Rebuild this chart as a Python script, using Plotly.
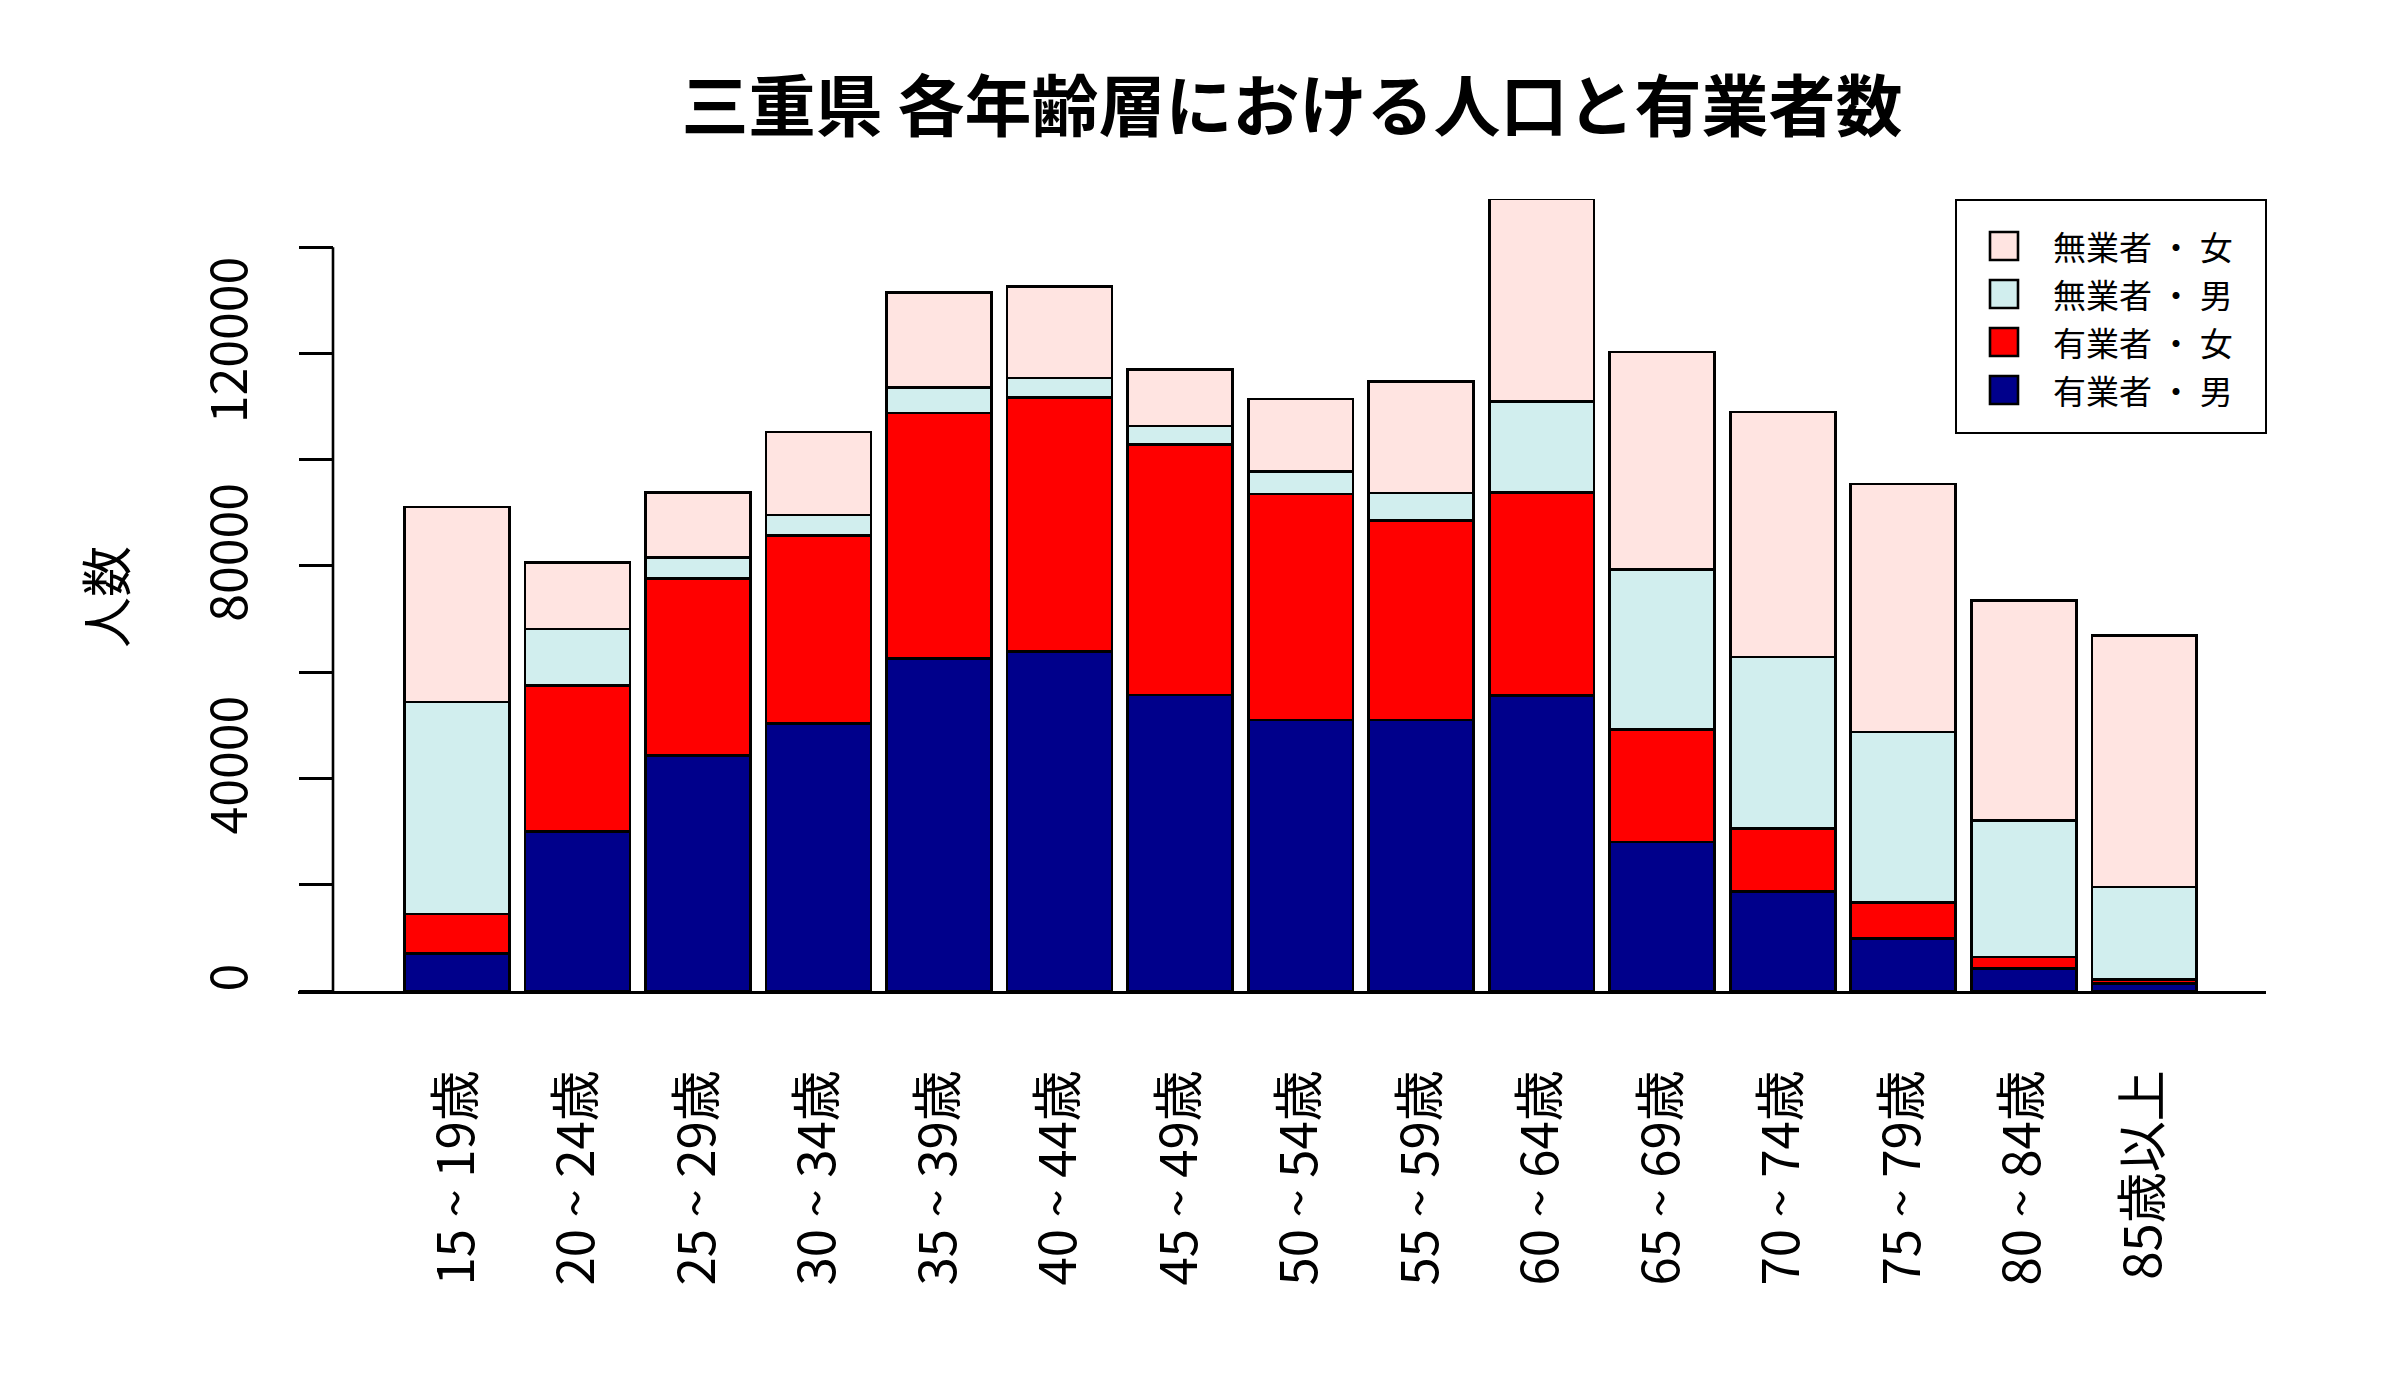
import plotly.graph_objects as go

# ---------------- data ----------------
categories = ["15 ~ 19歳", "20 ~ 24歳", "25 ~ 29歳", "30 ~ 34歳", "35 ~ 39歳",
              "40 ~ 44歳", "45 ~ 49歳", "50 ~ 54歳", "55 ~ 59歳", "60 ~ 64歳",
              "65 ~ 69歳", "70 ~ 74歳", "75 ~ 79歳", "80 ~ 84歳", "85歳以上"]
emp_male = [7040, 30000, 44290, 50310, 62550, 63880, 55710, 51020, 51020,
            55610, 28060, 18780, 9850, 4180, 1420]
emp_female = [7450, 27550, 33370, 35410, 46220, 47860, 47140, 42550, 37550,
              38270, 21120, 11840, 6770, 2200, 720]
nonemp_male = [39900, 10610, 3980, 3880, 4800, 3670, 3470, 4180, 5200,
               17040, 30200, 32245, 32160, 25760, 17450]
nonemp_female = [36730, 12450, 12245, 15610, 17860, 17245, 10710, 13670, 20920,
                 38160, 40920, 46120, 46630, 41330, 47350]
series_names = ["有業者・男", "有業者・女", "無業者・男", "無業者・女"]
series_colors = ["#00008B", "#FF0000", "#D1EEEE", "#FFE4E1"]
title_text = "三重県 各年齢層における人口と有業者数"
ylabel_text = "人数"
ytick_major = 40000
ytick_minor = 20000

FONT = "Noto Sans CJK JP"
OFF = 8                      # page body margin
W, H = 2400, 1400
L, R, T, B = 298 - OFF, 2266 - OFF, 199 - OFF, 991 - OFF   # plot region (figure px)

def px(xs):
    """screen x pixel -> paper fraction"""
    return (xs - OFF - L) / (R - L)

def py(ys):
    """screen y pixel -> paper fraction"""
    return (B - (ys - OFF)) / (B - T)

series_values = [emp_male, emp_female, nonemp_male, nonemp_female]
totals = [sum(v) for v in zip(*series_values)]
ymax = max(totals)

fig = go.Figure()
for name, vals, col in zip(series_names, series_values, series_colors):
    fig.add_trace(go.Bar(x=categories, y=vals, name=name,
                         marker=dict(color=col, line=dict(color="black", width=2.6)),
                         showlegend=False))

n = len(categories)
fig.update_layout(
    width=W, height=H,
    barmode="stack", bargap=0.129,
    plot_bgcolor="white", paper_bgcolor="white",
    margin=dict(l=L, r=W - R, t=T, b=H - B, pad=0),
    font=dict(family=FONT, size=50, color="black"),
    title=dict(text="<b>" + title_text + "</b>", x=(1292 - OFF) / W, y=1 - (108 - OFF) / H,
               xanchor="center", yanchor="middle",
               font=dict(family=FONT, size=67, color="black")),
)
fig.update_xaxes(
    type="category", range=[-1.32, n - 1 + 1.01],
    showline=True, linecolor="black", linewidth=2.6,
    ticks="", tickangle=-90, ticklabelstandoff=56,
    tickfont=dict(family=FONT, size=51, color="black"),
    showgrid=False, zeroline=False,
)
ypos = px(333)
fig.update_yaxes(
    range=[0, ymax], anchor="free", position=ypos,
    showline=False, showgrid=False, zeroline=False,
    dtick=ytick_major, tick0=0, tickformat="d",
    ticks="outside", ticklen=34, tickwidth=2.6,
    tickcolor="black", tickangle=-90, ticklabelstandoff=32, ticklabelshift=-6,
    tickfont=dict(family=FONT, size=50, color="black"),
    minor=dict(dtick=ytick_minor, tick0=0, ticks="outside", ticklen=34,
               tickwidth=2.6, tickcolor="black", showgrid=False),
)
# y axis line between first and last tick (R style)
last_tick = (ymax // ytick_minor) * ytick_minor
fig.add_shape(type="line", xref="paper", yref="y", x0=ypos, x1=ypos,
              y0=0, y1=last_tick, line=dict(color="black", width=2.6))

# y axis title
fig.add_annotation(text=ylabel_text, xref="paper", yref="paper",
                   x=px(104), y=py(597), textangle=-90, showarrow=False,
                   xanchor="center", yanchor="middle",
                   font=dict(family=FONT, size=51, color="black"))

# legend (R-style box, top right)
lg_left, lg_top, lg_bottom = 1956, 200, 433
fig.add_shape(type="rect", xref="paper", yref="paper",
              x0=px(lg_left), x1=1.0, y0=py(lg_bottom), y1=py(lg_top),
              line=dict(color="black", width=2), fillcolor="white", layer="above")
lg_font = 33
row_step = 48
row_mid = 318
sw = 28
names_top_down = series_names[::-1]
cols_top_down = series_colors[::-1]
for k, (name, col) in enumerate(zip(names_top_down, cols_top_down)):
    yc = row_mid + (k - 1.5) * row_step
    fig.add_shape(type="rect", xref="paper", yref="paper",
                  x0=px(2004 - sw / 2), x1=px(2004 + sw / 2),
                  y0=py(yc + sw / 2), y1=py(yc - sw / 2),
                  line=dict(color="black", width=2.6), fillcolor=col, layer="above")
    fig.add_annotation(text=name.replace("・", " ・ "), xref="paper", yref="paper",
                       x=px(2052), y=py(yc), xanchor="left", yanchor="middle",
                       align="left", showarrow=False, borderpad=0,
                       font=dict(family=FONT, size=lg_font, color="black"))

fig.write_html("out.html")
